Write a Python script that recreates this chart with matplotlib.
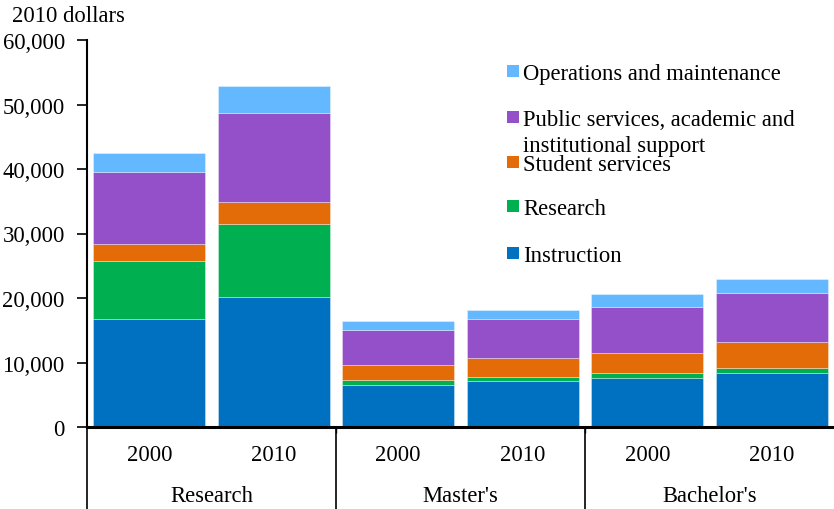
import matplotlib.pyplot as plt
import matplotlib.transforms as mtransforms
from matplotlib.patches import Rectangle
from matplotlib.ticker import FuncFormatter

plt.rcParams['font.family'] = ['Liberation Serif', 'DejaVu Serif']

years = ["2000", "2010", "2000", "2010", "2000", "2010"]
groups = ["Research", "Master's", "Bachelor's"]

instruction = [16700, 20100, 6550, 7200, 7600, 8400]
research = [9000, 11400, 750, 600, 700, 800]
student = [2600, 3400, 2250, 2900, 3100, 4000]
public = [11200, 13800, 5550, 6000, 7250, 7600]
operations = [3000, 4100, 1400, 1400, 1950, 2100]

series = [
    ("Instruction", instruction, "#0070C0"),
    ("Research", research, "#00B050"),
    ("Student services", student, "#E36C09"),
    ("Public services, academic and\ninstitutional support", public, "#9350C9"),
    ("Operations and maintenance", operations, "#63B8FF"),
]

fs = 16.3

fig = plt.figure(figsize=(8.34, 5.10), dpi=100)
ax = fig.add_axes([87 / 834, 1 - 428 / 510, 747 / 834, 387 / 510])

x = list(range(len(years)))
bottom = [0] * len(years)
for name, vals, col in series:
    ax.bar(x, vals, bottom=bottom, width=0.9, color=col,
           edgecolor=(1, 1, 1, 0.4), linewidth=0.6)
    bottom = [b + v for b, v in zip(bottom, vals)]

ax.set_xlim(-0.5, 5.5)
ax.set_ylim(0, 60000)
ax.set_yticks(range(0, 60001, 10000))
ax.yaxis.set_major_formatter(FuncFormatter(lambda v, p: f"{int(v):,}"))
ax.tick_params(axis='y', labelsize=fs, length=7, width=1.2, pad=9, direction='out')
ax.set_xticks([1.5, 3.5])
ax.set_xticklabels([])
ax.tick_params(axis='x', length=4, width=1)
for s in ["top", "right"]:
    ax.spines[s].set_visible(False)
ax.spines["left"].set_linewidth(1.5)
ax.spines["bottom"].set_linewidth(2.2)

# category axis labels
trans = mtransforms.blended_transform_factory(ax.transData, ax.transAxes)
for i, yr in enumerate(years):
    ax.text(i, -0.07, yr, transform=trans, ha='center', va='center', fontsize=fs)
for g, name in enumerate(groups):
    ax.text(2 * g + 0.5, -0.176, name, transform=trans, ha='center', va='center', fontsize=fs)
for xs in [-0.5, 1.5, 3.5]:
    ax.plot([xs, xs], [0, -0.215], transform=trans, color='black', lw=1.2, clip_on=False)

fig.text(12 / 834, 1 - 16 / 510, "2010 dollars", fontsize=fs, ha='left', va='center')

# legend, drawn by hand to keep the two-line entry aligned like the original
leg_y = [254, 207, 163, 118, 72]
for (name, vals, col), yy in zip(series, leg_y):
    fig.patches.append(Rectangle((507 / 834, 1 - (yy + 6) / 510), 12 / 834, 12 / 510,
                                 transform=fig.transFigure, facecolor=col, edgecolor='none'))
    fig.text(523 / 834, 1 - (yy - 8) / 510, name, fontsize=fs, ha='left', va='top',
             linespacing=1.3)

fig.savefig("out.png", dpi=100)
